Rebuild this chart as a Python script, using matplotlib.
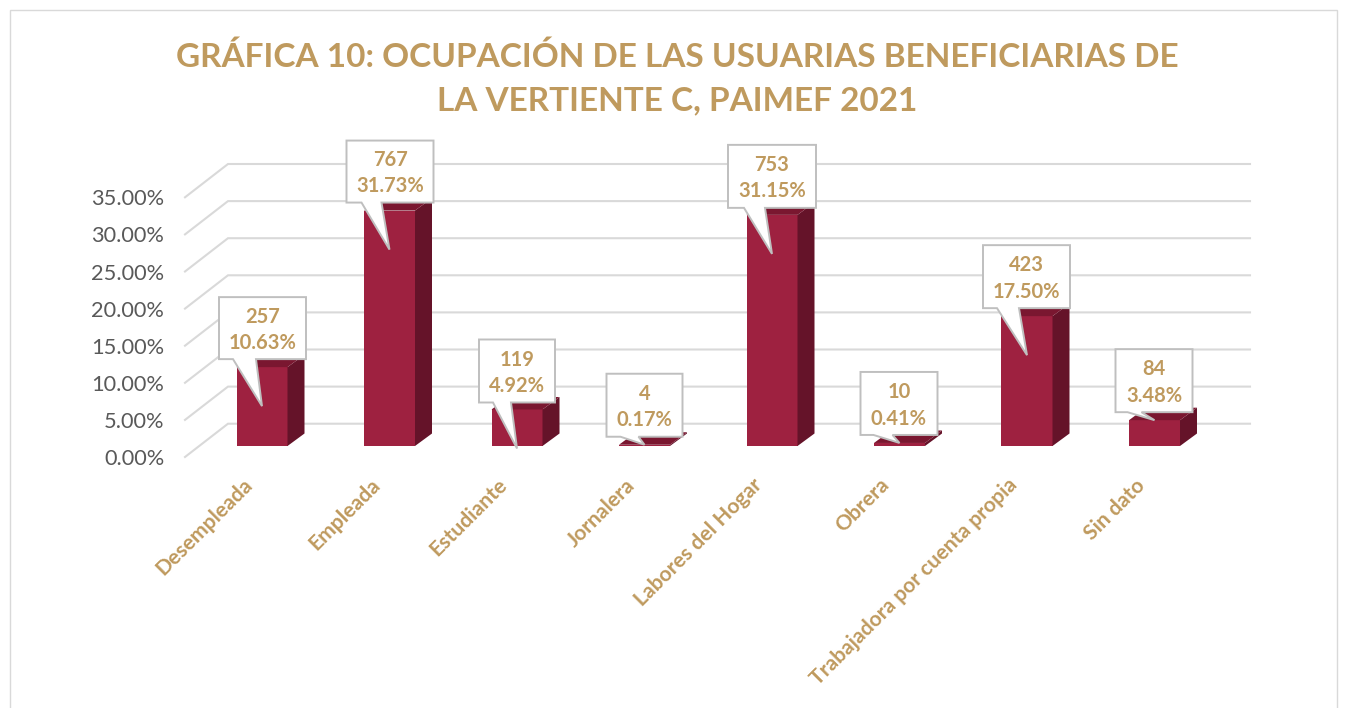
import matplotlib
matplotlib.use("Agg")
import matplotlib.pyplot as plt
from matplotlib.patches import Polygon, Rectangle
from matplotlib.transforms import IdentityTransform, ScaledTranslation

categories = ["Desempleada", "Empleada", "Estudiante", "Jornalera", "Labores del Hogar",
              "Obrera", "Trabajadora por cuenta propia", "Sin dato"]
counts = [257, 767, 119, 4, 753, 10, 423, 84]
percents = [10.63, 31.73, 4.92, 0.17, 31.15, 0.41, 17.50, 3.48]
y_ticks = [0, 5, 10, 15, 20, 25, 30, 35]
title = "GRÁFICA 10: OCUPACIÓN DE LAS USUARIAS BENEFICIARIAS DE\nLA VERTIENTE C, PAIMEF 2021"

# layout of the callouts, in pixels, relative to bar centre / bar top
box_x = [(-43, 44), (-43, 44), (-38, 38), (-38, 38), (-44, 44), (-39, 38), (-44, 43), (-39, 38)]
box_gap = [8, 8, 7, 8, 7, 8, 8, 8]      # gap from bar top up to box bottom
box_h = [62, 62, 63, 63, 63, 63, 63, 63]
base_x = [(-29, -6), (-28, -8), (-24, -6), (-24, -6), (-28, -7), (-26, -7), (-30, -8), (-27, -13)]
tip_drop = [39, 39, 39, 0, 39, 0, 39, 0]

W, H = 1347, 708
GOLD = "#BF9A5E"
FRONT, SIDE, TOP = "#9E2140", "#651329", "#7A1730"
GRID = "#D9D9D9"
plt.rcParams["font.family"] = ["Lato", "DejaVu Sans"]

fig = plt.figure(figsize=(W / 100, H / 100), dpi=100, facecolor="white")
fig.add_artist(Rectangle((10 / W, -0.02), (1337 - 10) / W, 1.02 - 10 / H, transform=fig.transFigure,
                         fc="white", ec="#D9D9D9", lw=1, zorder=-5))

# pixel geometry of the plot area
PX_L, PX_R, PX_T, PX_B = 185, 1250, 130, 457
X0, DX, Y0, DY = 262.0, 127.5, 446.0, 7.42
ax = fig.add_axes([PX_L / W, 1 - PX_B / H, (PX_R - PX_L) / W, (PX_B - PX_T) / H], zorder=1)
ax.set_xlim((PX_L - X0) / DX, (PX_R - X0) / DX)
ax.set_ylim((Y0 - PX_B) / DY, (Y0 - PX_T) / DY)
ax.patch.set_alpha(0)
for s in ax.spines.values():
    s.set_visible(False)

floor_front = (Y0 - PX_B) / DY
floor_back = (Y0 - 423.7) / DY
wall_x = (228 - X0) / DX
left_x = (PX_L - X0) / DX
right_x = (PX_R - X0) / DX
for v in y_ticks:
    ax.plot([left_x, wall_x, right_x], [v + floor_front, v + floor_back, v + floor_back],
            color=GRID, lw=1.5, clip_on=False, zorder=1, solid_joinstyle="miter")

width = 51 / DX
ddx, ddy = 17 / DX, 12.5 / DY
xs = list(range(len(categories)))
ax.bar(xs, percents, width=width, color=FRONT, zorder=3)
for x, p in zip(xs, percents):
    r = x + width / 2
    l = x - width / 2
    ax.add_patch(Polygon([(r, 0), (r + ddx, ddy), (r + ddx, p + ddy), (r, p)], fc=SIDE, ec="none", zorder=3))
    ax.add_patch(Polygon([(l, p), (r, p), (r + ddx, p + ddy), (l + ddx, p + ddy)], fc=TOP, ec="none", zorder=3))

ax.set_xticks(xs)
ax.set_xticklabels(categories, rotation=45, ha="right", va="top", rotation_mode="anchor",
                   color=GOLD, fontsize=15.2, fontweight="bold")
ax.tick_params(axis="x", length=0, pad=13)
shift = ScaledTranslation(-20 / 100, 0, fig.dpi_scale_trans)
for lab in ax.get_xticklabels():
    lab.set_transform(lab.get_transform() + shift)
ax.set_yticks([])

sec = ax.secondary_yaxis("left", functions=(lambda y: y - floor_front, lambda s: s + floor_front))
sec.set_yticks(y_ticks)
sec.set_yticklabels([f"{v:.2f}%" for v in y_ticks], color="#595959", fontsize=15.7)
sec.tick_params(axis="y", length=0, pad=15)
sec.spines["left"].set_visible(False)

fig.canvas.draw()
for i, (p, c) in enumerate(zip(percents, counts)):
    cx, top = ax.transData.transform((i, p))
    bottom = top + box_gap[i]
    t = bottom + box_h[i]
    lx, rx = cx + box_x[i][0], cx + box_x[i][1]
    tip_y = top - tip_drop[i]
    pts = [(lx, t), (rx, t), (rx, bottom), (cx + base_x[i][1], bottom), (cx, tip_y),
           (cx + base_x[i][0], bottom), (lx, bottom)]
    fig.add_artist(Polygon(pts, closed=True, fc="white", ec="#BFBFBF", lw=1.4,
                           transform=IdentityTransform(), zorder=5, joinstyle="miter"))
    mx = (lx + rx) / 2
    fig.text(mx / W, (bottom + box_h[i] * 0.68) / H, str(c), color=GOLD, fontsize=14.5, fontweight="bold",
             ha="center", va="center", zorder=6)
    fig.text(mx / W, (bottom + box_h[i] * 0.26) / H, f"{p:.2f}%", color=GOLD, fontsize=14.5, fontweight="bold",
             ha="center", va="center", zorder=6)

fig.text(677 / W, 1 - 78 / H, title, color=GOLD, fontsize=24, fontweight="bold",
         ha="center", va="center", linespacing=1.6)

fig.savefig("out.png", dpi=100, facecolor="white")
